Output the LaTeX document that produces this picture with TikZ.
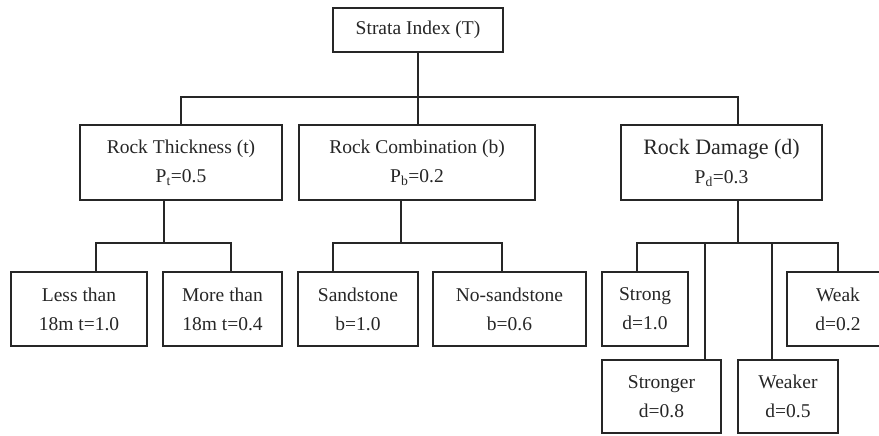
\documentclass[tikz,border=0pt]{standalone}
\usepackage{fontspec}
\setmainfont{Liberation Serif}
\begin{document}
\begin{tikzpicture}[x=1pt,y=-1pt,
  box/.style={draw=black!85,line width=1.6pt,inner sep=0pt,align=center,text=black!85,
    font=\fontsize{19.5}{29}\selectfont},
  conn/.style={draw=black!85,line width=1.6pt}]
\useasboundingbox (0,0) rectangle (879,436);
\clip (0,0) rectangle (879,436);
% level 1
\node[box,minimum width=170pt,minimum height=44pt] (top) at (418,30) {Strata Index (T)};
% level 2
\node[box,minimum width=202pt,minimum height=75pt] (thick) at (181,162.5) {Rock Thickness (t)\\P\textsubscript{t}=0.5};
\node[box,minimum width=236pt,minimum height=75pt] (comb) at (417,162.5) {Rock Combination (b)\\P\textsubscript{b}=0.2};
\node[box,minimum width=201pt,minimum height=75pt] (dmg) at (721.5,162.5) {{\fontsize{22}{26}\selectfont Rock Damage (d)}\\P\textsubscript{d}=0.3};
% level 3
\node[box,minimum width=136pt,minimum height=74pt] (less) at (79,309) {Less than\\18m t=1.0};
\node[box,minimum width=119pt,minimum height=74pt] (more) at (222.5,309) {More than\\18m t=0.4};
\node[box,minimum width=120pt,minimum height=74pt] (sand) at (358,309) {Sandstone\\b=1.0};
\node[box,minimum width=153pt,minimum height=74pt] (nosand) at (509.5,309) {No-sandstone\\b=0.6};
\node[box,minimum width=86pt,minimum height=74pt] (strong) at (645,309) {Strong\\d=1.0};
\node[box,minimum width=102pt,minimum height=74pt] (weak) at (838,309) {Weak\\d=0.2};
\node[box,minimum width=119pt,minimum height=73pt] (stronger) at (661.5,396.5) {Stronger\\d=0.8};
\node[box,minimum width=100pt,minimum height=73pt] (weaker) at (788,396.5) {Weaker\\d=0.5};
% connectors level 1 -> 2
\coordinate (bus1) at (418,97);
\draw[conn] (top.south) -- (bus1);
\draw[conn] (thick.north) |- (bus1);
\draw[conn] (bus1 |- comb.north) -- (bus1);
\draw[conn] (bus1) -| ([xshift=16.5pt]dmg.north);
% thickness
\coordinate (bus2) at (164,243);
\draw[conn] ([xshift=-17pt]thick.south) -- (bus2);
\draw[conn] ([xshift=17pt]less.north) |- (bus2) -| ([xshift=8.5pt]more.north);
% combination
\coordinate (bus3) at (401,243);
\draw[conn] ([xshift=-16pt]comb.south) -- (bus3);
\draw[conn] ([xshift=-25pt]sand.north) |- (bus3) -| ([xshift=-7.5pt]nosand.north);
% damage
\coordinate (bus4) at (738,243);
\draw[conn] ([xshift=16.5pt]dmg.south) -- (bus4);
\draw[conn] ([xshift=-8pt]strong.north) |- (bus4) -| (weak.north);
\path ([xshift=43.5pt]stronger.north) coordinate (s2);
\path ([xshift=-16pt]weaker.north) coordinate (w2);
\draw[conn] (s2) -- (s2 |- bus4);
\draw[conn] (w2) -- (w2 |- bus4);
\end{tikzpicture}
\end{document}
